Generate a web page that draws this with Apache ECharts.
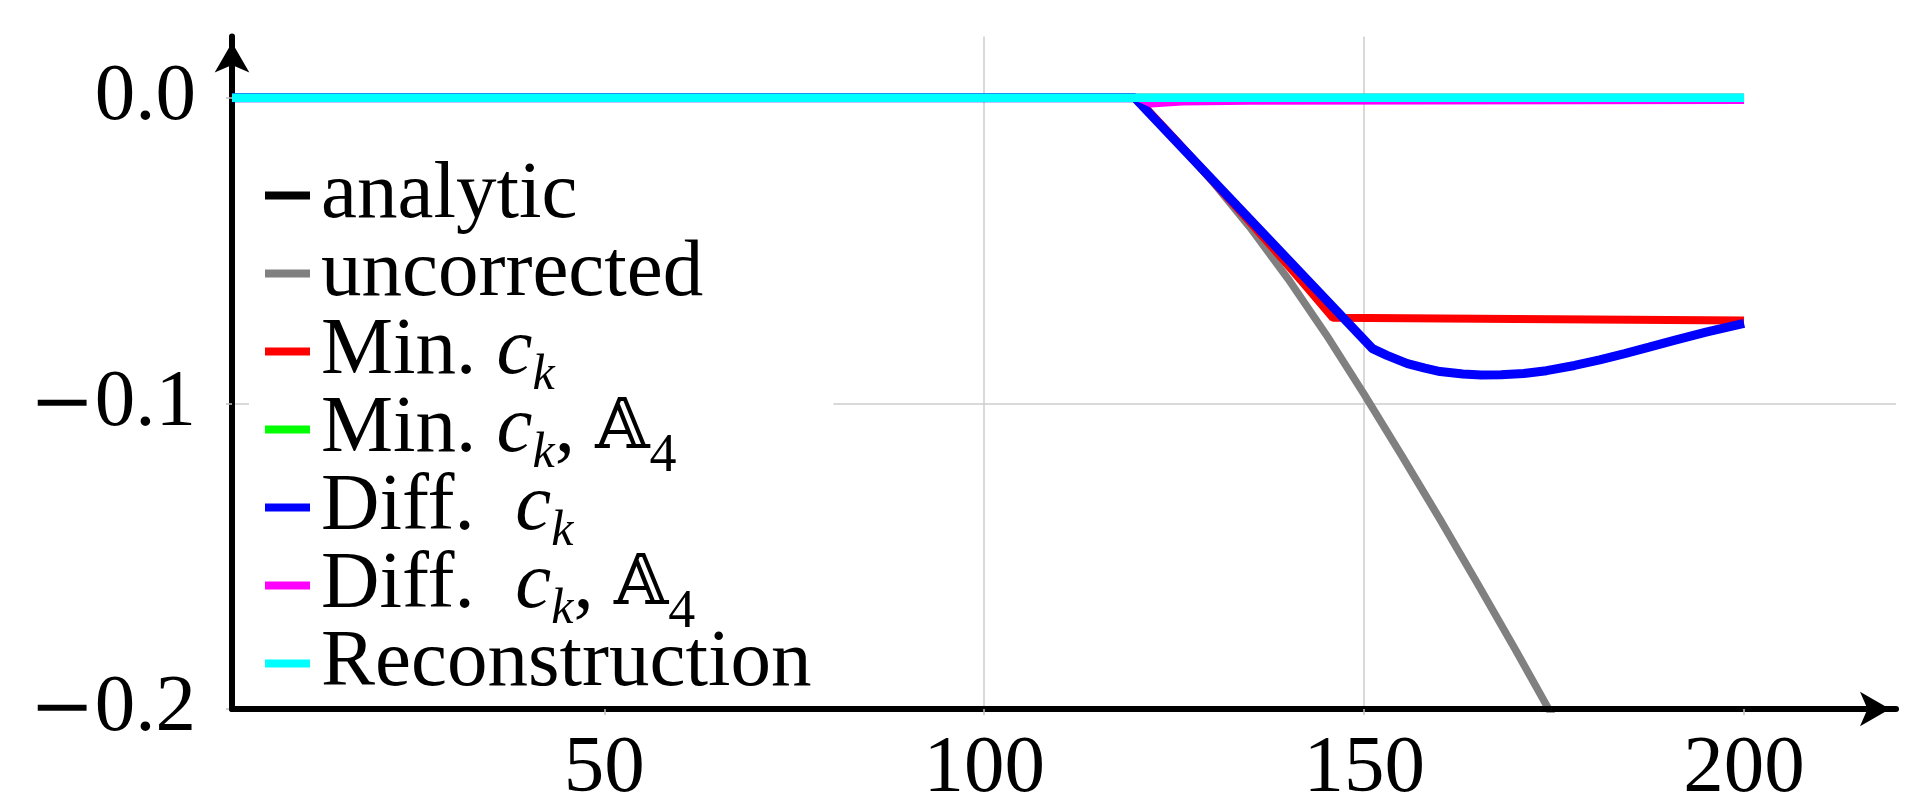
<!DOCTYPE html>
<html>
<head>
<meta charset="utf-8">
<script src="https://cdn.jsdelivr.net/npm/echarts@6/dist/echarts.min.js"></script>
<style>
html,body{margin:0;padding:0;background:#fff;}
#chart{width:1915px;height:810px;}
</style>
</head>
<body>
<div id="chart"></div>
<script>
// ---- data ----
const xTicks = [50, 100, 150, 200];
const xTickLabels = ['50', '100', '150', '200'];
const yTicks = [-0.2, -0.1, 0.0];
const yTickLabels = ['{m|\u2212}{d|0.2}', '{m|\u2212}{d|0.1}', '{d|0.0}'];

const seriesNames = ['analytic', 'uncorrected', 'Min. c_k', 'Min. c_k, A4', 'Diff. c_k', 'Diff. c_k, A4', 'Reconstruction'];
const seriesColors = ['#000000', '#808080', '#ff0000', '#00ff00', '#0000ff', '#ff00ff', '#00ffff'];

const analytic = [[1, 0], [200, 0]];
const uncorrected = [[1, 0], [120, 0], [125, -0.0133], [130, -0.0273], [135, -0.0425], [140, -0.0593], [145, -0.0775], [150, -0.0970], [155, -0.1173], [160, -0.1380], [165, -0.1593], [170, -0.1810], [175, -0.2032]];
const minCk = [[1, 0], [120, 0], [125, -0.0133], [130, -0.0270], [135, -0.0408], [138.7, -0.0512], [142, -0.0607], [145.9, -0.0720], [170, -0.0724], [200, -0.0729]];
const minCkA4 = [[1, 0], [200, 0]];
const diffCk = [[1, 0], [119.8, 0], [151.1, -0.0821], [153, -0.0843], [155.7, -0.0870], [158, -0.0885], [160, -0.0896], [163, -0.0904], [165.4, -0.0907], [168, -0.0906], [171, -0.0902], [174, -0.0893], [177.7, -0.0876], [181, -0.0858], [184.3, -0.0837], [187.5, -0.0816], [190.8, -0.0794], [195, -0.0767], [200, -0.0738]];
const diffCkA4 = [[1, 0], [120, 0], [122, -0.0022], [126, -0.0016], [135, -0.0013], [160, -0.0012], [200, -0.0011]];
const reconstruction = [[1, 0], [200, 0]];
const seriesData = [analytic, uncorrected, minCk, minCkA4, diffCk, diffCkA4, reconstruction];
const seriesWidths = [8, 7.5, 8, 7, 9, 6, 8.5];

// legend labels (rich text); the trailing {s4| } keeps every row the same height
const legendText = {
  'analytic': '{n|analytic}{s4| }',
  'uncorrected': '{n|uncorrected}{s4| }',
  'Min. c_k': '{n|Min. }{i|c}{sub|k}{s4| }',
  'Min. c_k, A4': '{n|Min. }{i|c}{sub|k}{n|, }{bb|\uD835\uDD38}{s4|4}',
  'Diff. c_k': '{n|Diff.  }{i|c}{sub|k}{s4| }',
  'Diff. c_k, A4': '{n|Diff.  }{i|c}{sub|k}{n|, }{bb|\uD835\uDD38}{s4|4}',
  'Reconstruction': '{n|Reconstruction}'
};

// ---- chart ----
const FONT = 'Liberation Serif';
const FS = 81;
const chart = echarts.init(document.getElementById('chart'), null, {renderer: 'canvas'});

const series = seriesNames.map((name, i) => ({
  name: name,
  type: 'line',
  xAxisIndex: 0,
  yAxisIndex: 0,
  data: seriesData[i],
  showSymbol: false,
  symbol: 'none',
  smooth: false,
  clip: true,
  color: seriesColors[i],
  itemStyle: {color: seriesColors[i]},
  lineStyle: {color: seriesColors[i], width: seriesWidths[i]},
  emphasis: {disabled: true},
  animation: false,
  z: 2 + i * 0.01
}));

const axisLineStyle = {
  show: true,
  onZero: false,
  lineStyle: {color: '#000', width: 6},
  symbol: ['none', 'arrow'],
  symbolSize: [26, 30],
  symbolOffset: [0, -6]
};

chart.setOption({
  animation: false,
  backgroundColor: '#ffffff',
  grid: {left: 232, right: 19, top: 36.6, bottom: 93.3, containLabel: false},
  xAxis: [
    {
      // grid lines (drawn below the legend box)
      type: 'value', min: 1, max: 220, splitNumber: 4, position: 'bottom',
      axisLine: {show: false}, axisTick: {show: false, customValues: xTicks},
      axisLabel: {show: false, customValues: xTicks},
      splitLine: {show: true, showMinLine: false, showMaxLine: false, lineStyle: {color: '#cccccc', width: 1.5}}
    },
    {
      // axis line, ticks and labels (drawn above the legend box)
      type: 'value', min: 1, max: 220, splitNumber: 4, position: 'bottom', offset: 0, z: 10,
      axisLine: axisLineStyle,
      axisTick: {show: true, length: 6, customValues: xTicks, lineStyle: {color: '#c0c0c0', width: 1.5}},
      axisLabel: {
        show: true, customValues: xTicks, margin: 20,
        fontFamily: FONT, fontSize: FS, color: '#000',
        formatter: v => { const k = xTicks.indexOf(v); return k >= 0 ? xTickLabels[k] : ''; }
      },
      splitLine: {show: false}
    }
  ],
  yAxis: {
    type: 'value',
    min: -0.2,
    max: 0.02,
    interval: 0.1,
    axisLine: axisLineStyle,
    axisTick: {show: true, length: 6, customValues: yTicks, lineStyle: {color: '#c0c0c0', width: 1.5}},
    axisLabel: {
      show: true,
      customValues: yTicks,
      margin: 36,
      fontFamily: FONT,
      fontSize: FS,
      color: '#000',
      formatter: v => {
        let k = -1;
        yTicks.forEach((t, j) => { if (Math.abs(t - v) < 1e-9) k = j; });
        return k >= 0 ? yTickLabels[k] : '';
      },
      rich: {
        m: {fontFamily: 'DejaVu Serif', fontSize: 78, color: '#000', padding: [6, 0, 0, 0]},
        d: {fontFamily: FONT, fontSize: FS, color: '#000'}
      }
    },
    splitLine: {show: true, showMinLine: false, showMaxLine: false, lineStyle: {color: '#cccccc', width: 1.5}}
  },
  legend: {
    show: true,
    orient: 'vertical',
    left: 249,
    top: 147,
    padding: [8, 22, 2, 16],
    itemGap: -16.5,
    itemWidth: 45,
    itemHeight: 8,
    icon: 'rect',
    align: 'left',
    selectedMode: false,
    backgroundColor: '#ffffff',
    borderWidth: 0,
    data: seriesNames,
    formatter: name => legendText[name],
    textStyle: {
      fontFamily: FONT,
      fontSize: FS,
      color: '#000',
      lineHeight: 78,
      padding: [0, 0, 0, 6],
      rich: {
        n: {fontFamily: FONT, fontSize: FS, lineHeight: 78, color: '#000', verticalAlign: 'middle'},
        i: {fontFamily: FONT, fontSize: FS, fontStyle: 'italic', lineHeight: 78, color: '#000', verticalAlign: 'middle'},
        sub: {fontFamily: FONT, fontSize: 50, fontStyle: 'italic', height: 30, lineHeight: 30, verticalAlign: 'bottom', color: '#000'},
        bb: {fontFamily: 'DejaVu Serif, DejaVu Sans', fontSize: 70, lineHeight: 78, color: '#000', verticalAlign: 'middle'},
        s4: {fontFamily: FONT, fontSize: 54, height: 24, lineHeight: 24, verticalAlign: 'bottom', color: '#000'}
      }
    }
  },
  series: series
});
</script>
</body>
</html>
